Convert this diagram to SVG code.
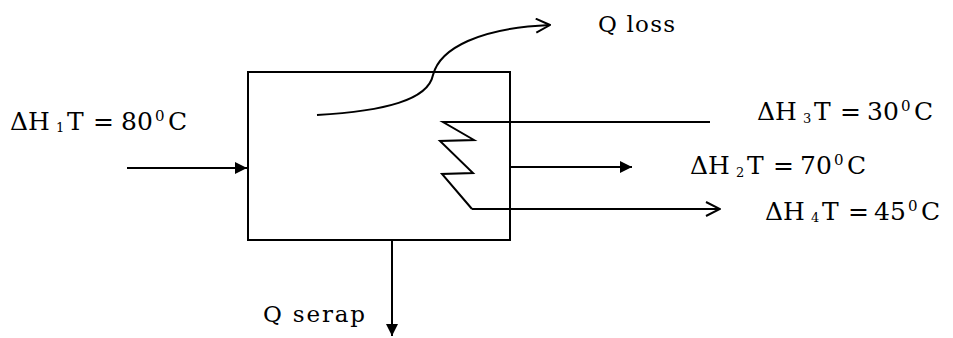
<svg xmlns="http://www.w3.org/2000/svg" width="953" height="338" viewBox="0 0 953 338">
<style>
.ln{fill:none;stroke:#000;stroke-width:2}
.lbl{font-family:"DejaVu Serif","Liberation Serif",serif;font-size:25px;fill:#000}
.q{font-family:"DejaVu Serif","Liberation Serif",serif;font-size:23px;fill:#000}
.sub{font-size:13px}
.sup{font-size:15px}
</style>
<defs>
<marker id="fill" viewBox="0 0 12 12" refX="12" refY="6" markerWidth="12" markerHeight="12" markerUnits="userSpaceOnUse" orient="auto">
<path d="M0,0 L12,6 L0,12 Z" fill="#000"/>
</marker>
<marker id="open" viewBox="0 0 16 16" refX="15" refY="8" markerWidth="16" markerHeight="16" markerUnits="userSpaceOnUse" orient="auto">
<path d="M1,1 L15,8 L1,15" fill="none" stroke="#000" stroke-width="2"/>
</marker>
</defs>
<rect width="953" height="338" fill="#fff"/>
<g id="tank">
<rect x="248" y="72" width="262" height="168" class="ln"/>
</g>
<g id="coil">
<polyline class="ln" stroke-width="1.6" points="710,122 443,122 474,140 440,141 473,173 442,174 472,209"/>
</g>
<g id="connectors">
<path class="ln" d="M127,168 L247,168" marker-end="url(#fill)"/>
<path class="ln" d="M510,167 L632,167" marker-end="url(#fill)"/>
<path class="ln" d="M472,209 L720,209" marker-end="url(#open)"/>
<path class="ln" d="M392,240 L392,336" marker-end="url(#fill)"/>
<path class="ln" d="M317,115 C385,111 428,100 433,75 C440,48 480,28 550,25" marker-end="url(#open)"/>
</g>
<g id="labels">
<text class="lbl" y="130"><tspan x="10">ΔH</tspan><tspan class="sub" x="56" y="132">1</tspan><tspan x="67" y="130">T</tspan><tspan x="93">=</tspan><tspan x="121">80</tspan><tspan class="sup" x="155" y="121">0</tspan><tspan x="168" y="130">C</tspan></text>
<text class="lbl" y="120"><tspan x="757">ΔH</tspan><tspan class="sub" x="803" y="123">3</tspan><tspan x="814" y="120">T</tspan><tspan x="840">=</tspan><tspan x="867">30</tspan><tspan class="sup" x="901" y="111">0</tspan><tspan x="914" y="120">C</tspan></text>
<text class="lbl" y="174"><tspan x="690">ΔH</tspan><tspan class="sub" x="736" y="177">2</tspan><tspan x="747" y="174">T</tspan><tspan x="773">=</tspan><tspan x="800">70</tspan><tspan class="sup" x="834" y="165">0</tspan><tspan x="847" y="174">C</tspan></text>
<text class="lbl" y="220"><tspan x="765">ΔH</tspan><tspan class="sub" x="811" y="222">4</tspan><tspan x="822" y="220">T</tspan><tspan x="848">=</tspan><tspan x="874">45</tspan><tspan class="sup" x="908" y="211">0</tspan><tspan x="921" y="220">C</tspan></text>
<text class="q" x="598" y="32" textLength="77" lengthAdjust="spacing">Q loss</text>
<text class="q" x="263" y="322" textLength="102" lengthAdjust="spacing">Q serap</text>
</g>
</svg>
